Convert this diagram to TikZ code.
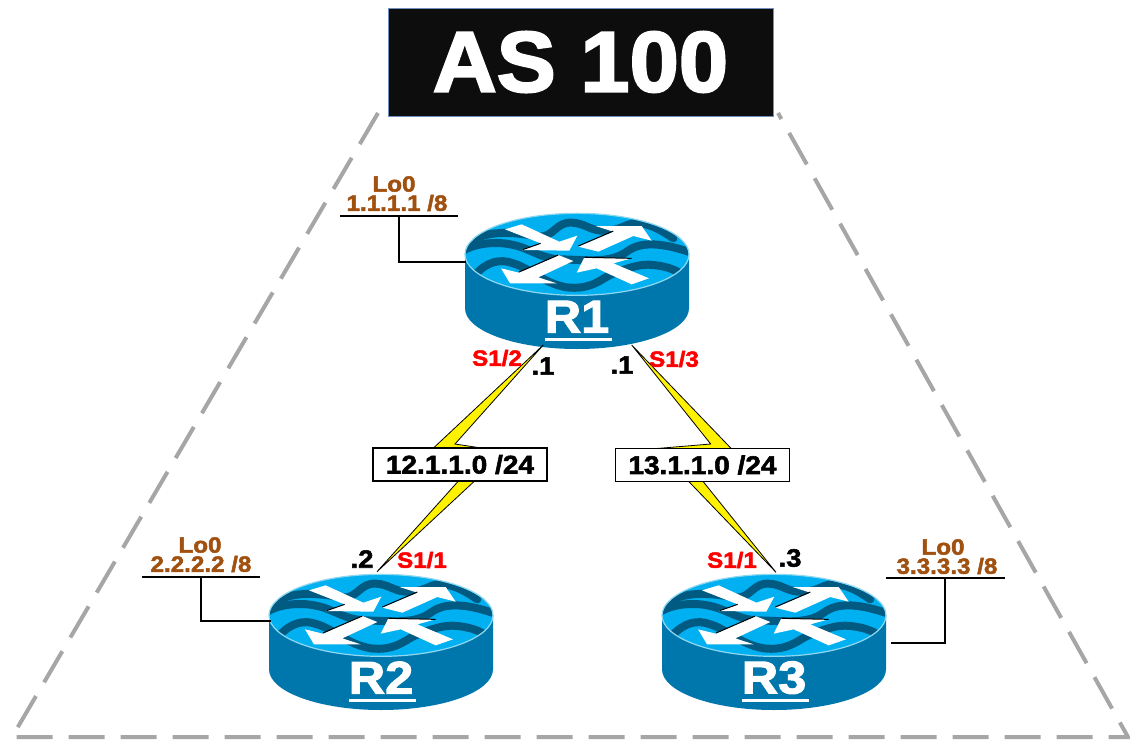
\documentclass[tikz,border=0pt]{standalone}
\usepackage{fontspec}
\setmainfont{Liberation Sans}
\newfontfamily\heavy{Liberation Sans}[BoldFeatures={FakeBold=2.2,FakeStretch=1.1}]
\newfontfamily\heavyT{Liberation Sans}[BoldFeatures={FakeBold=2.5,FakeStretch=1.03}]
\definecolor{rbody}{HTML}{0077AC}
\definecolor{rtop}{HTML}{00B0F0}
\definecolor{rwave}{HTML}{005A82}
\definecolor{rrim}{HTML}{8FD8F0}
\definecolor{brownlab}{HTML}{A0500F}
\definecolor{dashgray}{HTML}{A6A6A6}
\tikzset{
  txt/.style={font=\heavy\bfseries\fontsize{#1}{#1}\selectfont,inner sep=0pt},
  lolab/.style={txt=22,text=brownlab},
  ifred/.style={txt=22,text=red},
  hostid/.style={txt=25,text=black},
  netbox/.style={draw=black,line width=1.2pt,fill=white,minimum width=174pt,minimum height=33pt,inner sep=0pt,font=\heavy\bfseries\fontsize{25.5}{25.5}\selectfont},
  bolt/.style={draw=black,line width=0.8pt,fill=yellow,line join=miter},
  wire/.style={draw=black,line width=1.3pt},
  wave/.style={draw=rwave,line width=8pt,line cap=round},
  arrowwhite/.style={fill=white},
  shadow/.style={draw=black,line width=1pt},
}
\newcommand{\routerat}[4]{%
\begin{scope}[shift={(#1,#2)},x=0.33333pt,y=-0.33333pt]
  \fill[rbody] (45,163) -- (45,325) arc[start angle=180,end angle=0,x radius=336,y radius=122] -- (717,163) -- cycle;
  \fill[rtop] (381,163) ellipse[x radius=336,y radius=123];
  \begin{scope}
    \clip (381,163) ellipse[x radius=334,y radius=121];
    \draw[wave] (60,125) .. controls (120,85) and (210,100) .. (270,110) .. controls (310,110) and (320,65) .. (365,68) .. controls (410,70) and (420,95) .. (470,92) .. controls (520,90) and (530,65) .. (570,70) .. controls (610,75) and (640,95) .. (670,115);
    \draw[wave] (35,155) .. controls (80,125) and (150,125) .. (190,135) .. controls (240,145) and (270,175) .. (330,178) .. controls (420,180) and (480,190) .. (530,155) .. controls (570,125) and (630,125) .. (730,160);
    \draw[wave] (75,225) .. controls (110,185) and (150,175) .. (190,190) .. controls (240,205) and (280,250) .. (350,262) .. controls (420,270) and (450,240) .. (480,225) .. controls (530,205) and (570,190) .. (610,195) .. controls (640,198) and (670,205) .. (700,225);
  \end{scope}
  \draw[rrim,line width=1.2pt] (45,163) arc[start angle=180,end angle=540,x radius=336,y radius=123];
  \fill[arrowwhite] (165,88) -- (215,73) -- (328,125) -- (382,107) -- (358,152) -- (215,150) -- (272,130) -- cycle;
  \fill[arrowwhite] (385,140) -- (490,95) -- (437,78) -- (575,78) -- (605,122) -- (550,108) -- (445,155) -- cycle;
  \fill[arrowwhite] (325,165) -- (370,183) -- (265,232) -- (320,250) -- (180,250) -- (153,205) -- (207,218) -- cycle;
  \fill[arrowwhite] (597,235) -- (545,253) -- (440,205) -- (380,218) -- (403,172) -- (545,175) -- (490,190) -- cycle;
  \draw[shadow] (385,138) -- (490,93);
  \draw[shadow] (207,216) -- (325,165);
  \draw[shadow] (218,149) -- (272,130);
  \draw[shadow] (403,172) -- (545,175);
  \draw[white,line width=3.2pt] (285,418) -- (485,418);
  \node[txt=46,text=white] (#3) at (381,350) {#4};
\end{scope}}
\begin{document}
\begin{tikzpicture}[x=1pt,y=-1pt]
\useasboundingbox (0,0) rectangle (1130,740);
\fill[white] (0,0) rectangle (1130,740);

% AS box
\node[draw={rgb,255:red,111;green,143;blue,191},line width=1pt,fill={rgb,255:red,13;green,13;blue,13},text=white,minimum width=385pt,minimum height=108pt,inner sep=0pt,font=\heavyT\bfseries\fontsize{86}{86}\selectfont] (asbox) at (580.5,62) {AS 100};

% dashed trapezoid
\coordinate (tl) at (378,113);
\coordinate (bl) at (12,737);
\coordinate (br) at (1128,737);
\coordinate (tr) at (778,113);
\draw[dashgray,line width=4pt,dash pattern=on 36pt off 16pt] (tl) -- (bl) -- (br) -- (tr);

% routers
\routerat{450}{200}{R1}{R1}
\routerat{254}{561}{R2}{R2}
\routerat{647}{561}{R3}{R3}

% bolts
\coordinate (t1a) at (543.3,345);
\coordinate (t2a) at (377,571.7);
\coordinate (t1b) at (631.7,345);
\coordinate (t3a) at (776,572.3);
\draw[bolt] (t1a) -- (455,444) -- (478,447.5) -- (473.5,482) -- (t2a) -- (457.5,482) -- (434,447.5) -- cycle;
\draw[bolt] (t1b) -- (731.7,449) -- (702.7,481) -- (t3a) -- (688.3,481) -- (656.7,448.5) -- (710.7,444) -- cycle;

% network boxes
\node[netbox] (n12) at (460,464.5) {12.1.1.0 /24};
\node[netbox] (n13) at (702.5,465) {13.1.1.0 /24};

% loopback stubs
\node[lolab] (lo1) at (394,184) {Lo0};
\node[lolab] (ip1) at (397,203) {1.1.1.1 /8};
\node[lolab] (lo2) at (200,545) {Lo0};
\node[lolab] (ip2) at (201,564) {2.2.2.2 /8};
\node[lolab] (lo3) at (943,547) {Lo0};
\node[lolab] (ip3) at (947,566) {3.3.3.3 /8};
\coordinate (u1l) at (340,216); \coordinate (u1r) at (458,216); \coordinate (u1m) at (399,216); \coordinate (a1) at (466,262);
\coordinate (u2l) at (142,577); \coordinate (u2r) at (260,577); \coordinate (u2m) at (201,577); \coordinate (a2) at (271,621);
\coordinate (u3l) at (886,578); \coordinate (u3r) at (1005,578); \coordinate (u3m) at (945,578); \coordinate (a3) at (891,643);
\draw[wire] (u1l) -- (u1r);
\draw[wire] (u1m) |- (a1);
\draw[wire] (u2l) -- (u2r);
\draw[wire] (u2m) |- (a2);
\draw[wire] (u3l) -- (u3r);
\draw[wire] (u3m) |- (a3);

% interface labels
\node[ifred] (s12) at (497,358) {S1/2};
\node[ifred] (s13) at (674,359) {S1/3};
\node[ifred] (s21) at (422,560) {S1/1};
\node[ifred] (s31) at (732,560) {S1/1};
\node[hostid] (h1a) at (543,366) {.1};
\node[hostid] (h1b) at (622,365) {.1};
\node[hostid] (h2) at (362,559) {.2};
\node[hostid] (h3) at (790,558) {.3};
\end{tikzpicture}
\end{document}
